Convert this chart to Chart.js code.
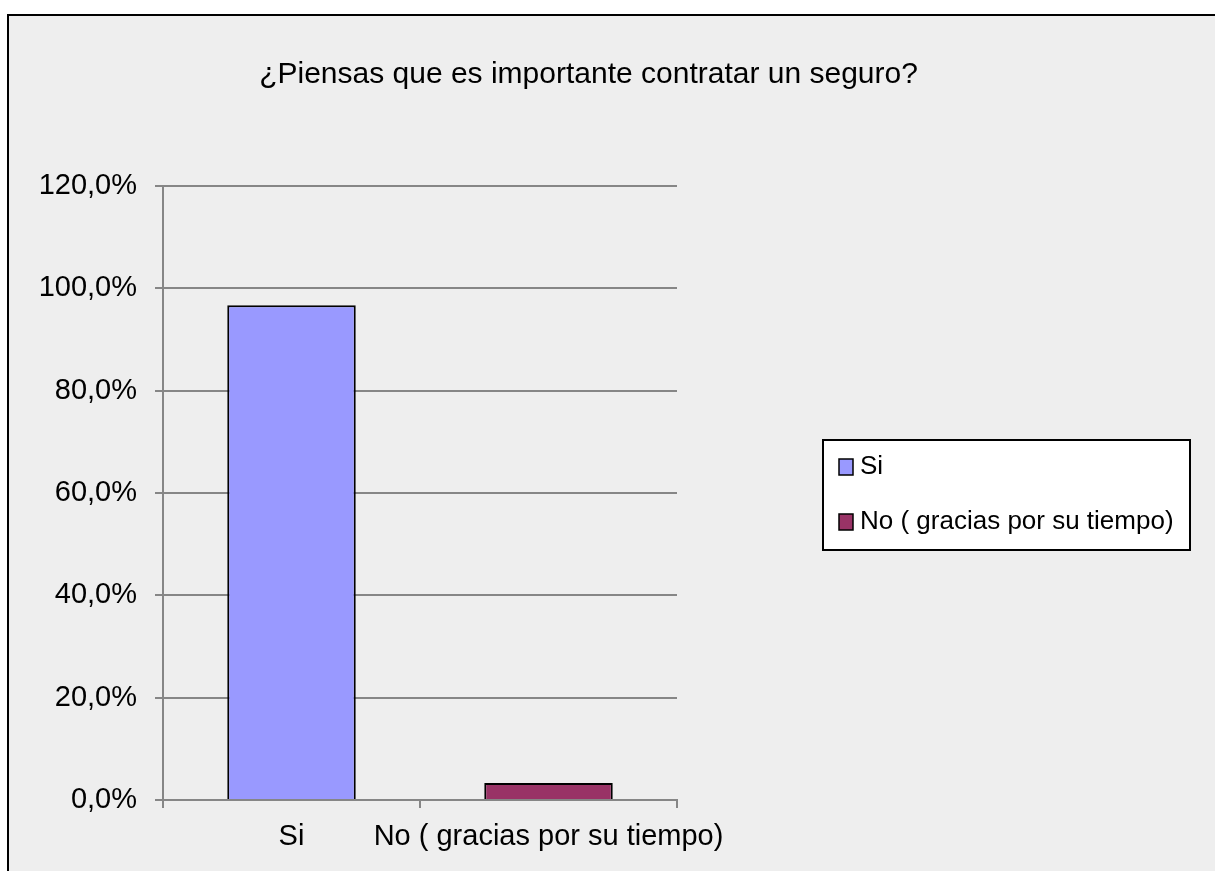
<!DOCTYPE html>
<html lang="es">
<head>
  <meta charset="UTF-8">
  <title>¿Piensas que es importante contratar un seguro?</title>
  <style>
    body {
      margin: 0;
      background-color: #ffffff;
    }
    .chart-box {
      position: absolute;
      left: 7px;
      top: 14px;
      width: 1220px;
      height: 870px;
      border: 2px solid #000;
      background-color: #eeeeee;
    }
    canvas {
      position: absolute;
      left: 0;
      top: 0;
    }
  </style>
  <script src="https://cdn.jsdelivr.net/npm/chart.js"></script>
</head>
<body>

<div class="chart-box">
  <canvas id="chart" width="1206" height="855"></canvas>
</div>

<script>
const titleText = "¿Piensas que es importante contratar un seguro?";
const categories = ["Si", "No ( gracias por su tiempo)"];
const values = [0.967, 0.033];
const barColors = ["#9999ff", "#993366"];
const yTicks = [0, 0.2, 0.4, 0.6, 0.8, 1.0, 1.2];

Chart.defaults.font.family = "'Liberation Sans', Arial, sans-serif";
Chart.defaults.color = "#000";

function pct(v) {
  return (v * 100).toFixed(1).replace(".", ",") + "%";
}

// legend drawn as a white box with a border, like the original
const boxLegend = {
  id: "boxLegend",
  afterDraw(chart) {
    const ctx = chart.ctx;
    const area = chart.chartArea;
    const left = area.right + 146;
    const mid = (area.top + area.bottom) / 2 + 2;
    const w = 367, h = 110;
    const top = mid - h / 2;

    ctx.save();
    ctx.fillStyle = "#ffffff";
    ctx.fillRect(left, top, w, h);
    ctx.strokeStyle = "#000";
    ctx.lineWidth = 2;
    ctx.strokeRect(left, top, w, h);

    ctx.font = "26px 'Liberation Sans', Arial, sans-serif";
    ctx.textBaseline = "middle";
    ctx.textAlign = "left";
    categories.forEach((label, i) => {
      const y = top + 27 + i * 55;
      ctx.fillStyle = barColors[i];
      ctx.fillRect(left + 16, y - 8, 14, 16);
      ctx.lineWidth = 1.5;
      ctx.strokeStyle = "#000";
      ctx.strokeRect(left + 16, y - 8, 14, 16);
      ctx.fillStyle = "#000";
      ctx.fillText(label, left + 37, y);
    });
    ctx.restore();
  }
};

new Chart(document.getElementById("chart"), {
  type: "bar",
  data: {
    labels: categories,
    datasets: [{
      data: values,
      backgroundColor: barColors,
      borderColor: "#000",
      borderWidth: 2,
      barPercentage: 0.5,
      categoryPercentage: 1.0
    }]
  },
  options: {
    responsive: false,
    animation: false,
    layout: {
      padding: { left: 0, top: 0, right: 47, bottom: 0 }
    },
    plugins: {
      legend: { display: false },
      tooltip: { enabled: false },
      title: {
        display: true,
        text: titleText,
        color: "#000",
        font: { size: 30, weight: "normal" },
        padding: { top: 41, bottom: 93 }
      }
    },
    scales: {
      x: {
        grid: {
          display: true,
          drawOnChartArea: false,
          drawTicks: true,
          tickLength: 8,
          color: "#868686",
          lineWidth: 2
        },
        border: { color: "#868686", width: 2 },
        ticks: {
          font: { size: 29 },
          color: "#000",
          padding: 12,
          autoSkip: false,
          maxRotation: 0,
          minRotation: 0
        },
        afterFit(scale) { scale.height = 71; }
      },
      y: {
        min: 0,
        max: 1.2,
        afterBuildTicks(scale) {
          scale.ticks = yTicks.map(v => ({ value: v }));
        },
        grid: {
          color: "#868686",
          lineWidth: 2,
          tickLength: 8
        },
        border: { color: "#868686", width: 2 },
        ticks: {
          font: { size: 29 },
          color: "#000",
          padding: 18,
          callback: v => pct(v)
        },
        afterFit(scale) { scale.width = 154; }
      },
      legendSpace: {
        type: "linear",
        position: "right",
        display: true,
        grid: { display: false },
        border: { display: false },
        ticks: { display: false },
        afterFit(scale) { scale.width = 491; }
      }
    }
  },
  plugins: [boxLegend]
});
</script>

</body>
</html>
